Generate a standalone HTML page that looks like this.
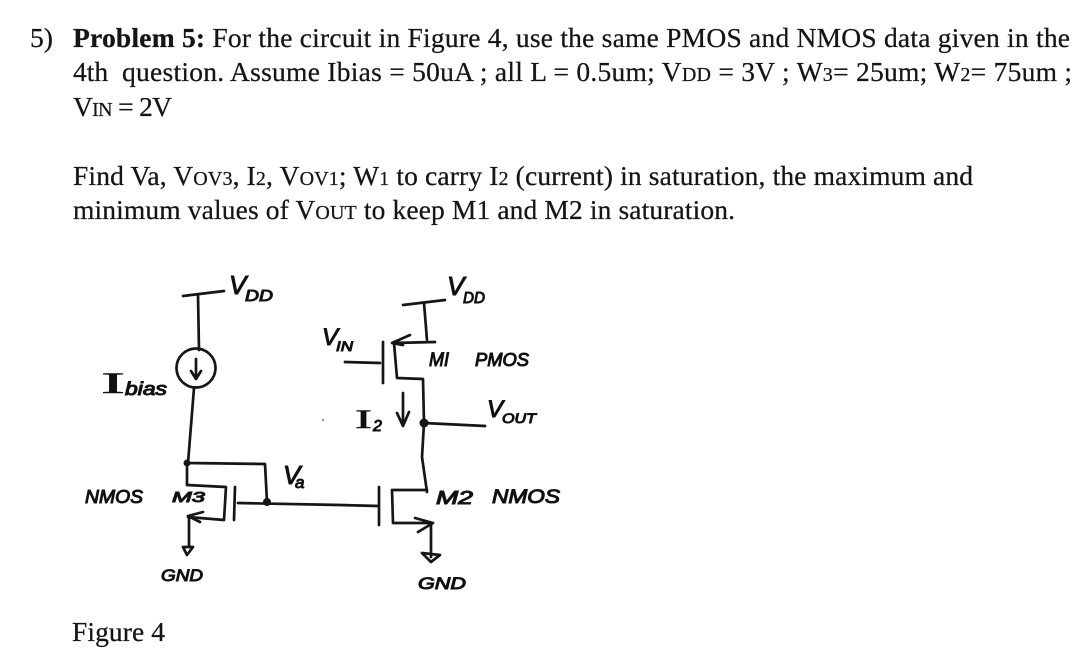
<!DOCTYPE html>
<html><head><meta charset="utf-8">
<style>
html,body{margin:0;padding:0;background:#fff;width:1082px;height:658px;overflow:hidden}
svg{display:block}
.t{font-family:"Liberation Serif",serif;font-size:27.5px;fill:#151515;stroke:#151515;stroke-width:.25px;filter:blur(.3px)}
.s{font-size:20px}
.h{font-family:"Liberation Sans",sans-serif;font-style:italic;fill:#111;stroke:#111;stroke-width:1px;filter:blur(.3px)}
.i{font-family:"Liberation Serif",serif;font-style:normal;fill:#111;stroke:#111;stroke-width:.5px;filter:blur(.3px)}
.w{fill:none;stroke:#161616;stroke-width:2.7;stroke-linecap:round;stroke-linejoin:round;filter:blur(.3px)}
</style></head><body>
<svg width="1082" height="658" viewBox="0 0 1082 658" xmlns="http://www.w3.org/2000/svg">
<text class="t" x="30" y="47">5)</text>
<text class="t" x="73" y="47" textLength="997"><tspan font-weight="bold">Problem 5:</tspan> For the circuit in Figure 4, use the same PMOS and NMOS data given in the</text>
<text class="t" x="73" y="81">4th</text>
<text class="t" x="122" y="81" textLength="950">question. Assume Ibias = 50uA ; all L = 0.5um; V<tspan class="s">DD</tspan> = 3V ; W<tspan class="s">3</tspan>= 25um; W<tspan class="s">2</tspan>= 75um ;</text>
<text class="t" x="73" y="116" textLength="99">V<tspan class="s">IN</tspan> = 2V</text>
<text class="t" x="73" y="185" textLength="900">Find Va, V<tspan class="s">OV3</tspan>, I<tspan class="s">2</tspan>, V<tspan class="s">OV1</tspan>; W<tspan class="s">1</tspan> to carry I<tspan class="s">2</tspan> (current) in saturation, the maximum and</text>
<text class="t" x="73" y="219" textLength="662">minimum values of V<tspan class="s">OUT</tspan> to keep M1 and M2 in saturation.</text>
<text class="t" x="72" y="641" textLength="93">Figure 4</text>

<!-- left branch -->
<g class="w">
<path d="M183 296L224 291M198 295L199 350"/>
<circle cx="196" cy="368" r="19.5"/>
<path d="M196 359L196 378M191 371L196 379L201 371"/>
<path d="M194 388L188 463M187 463L265 464L267 502"/>
<path d="M187 463L187 485L226 487L224 520L188 517"/>
<path d="M235 487L234 520"/>
<path d="M238 503L340 505L378 506"/>
<path d="M203 512L188 516L200 522"/>
<path d="M189 517L189 547M183 547L193 547L187 555Z"/>
</g>
<circle cx="187" cy="463" r="3.5" fill="#161616"/>
<circle cx="267" cy="502" r="4" fill="#161616"/>

<!-- right branch -->
<g class="w">
<path d="M403 305L445 300M424 303L427 340"/>
<path d="M435 342L393 343M410 335L392 343L403 345"/>
<path d="M394 343L397 378L423 379L424 423L422 457L427 492"/>
<path d="M383 342L383 383M345 362L380 363"/>
<path d="M424 423L485 426"/>
<path d="M379 487L379 525"/>
<path d="M427 490L392 490L393 523L433 523M415 518L433 523L418 532"/>
<path d="M431 525L431 557M422 553L440 555L431 562Z"/>
<path d="M403 393L403 425M397 413L403 426L409 412"/>
</g>
<circle cx="424" cy="423" r="4.5" fill="#161616"/>
<circle cx="323" cy="420" r="1.2" fill="#999"/>

<!-- handwritten labels -->
<text class="h" x="229" y="294" font-size="26">V</text>
<text class="h" x="245" y="301" font-size="16" textLength="28" lengthAdjust="spacingAndGlyphs">DD</text>
<text class="h" x="447" y="295" font-size="26">V</text>
<text class="h" x="463" y="303" font-size="16" textLength="22" lengthAdjust="spacingAndGlyphs">DD</text>
<text class="h" x="322" y="345" font-size="24">V</text>
<text class="h" x="336" y="351" font-size="14" textLength="17" lengthAdjust="spacingAndGlyphs">IN</text>
<text class="h" x="429" y="366" font-size="19" textLength="20" lengthAdjust="spacingAndGlyphs">MI</text>
<text class="h" x="475" y="366" font-size="18" textLength="54" lengthAdjust="spacingAndGlyphs">PMOS</text>
<text class="h" x="487" y="417" font-size="24">V</text>
<text class="h" x="502" y="423" font-size="14" textLength="34" lengthAdjust="spacingAndGlyphs">OUT</text>
<text class="i" x="355" y="428" font-size="26" textLength="17" lengthAdjust="spacingAndGlyphs">I</text>
<text class="h" x="373" y="431" font-size="16">2</text>
<text class="h" x="283" y="484" font-size="26">V</text>
<text class="h" x="295" y="488" font-size="17">a</text>
<text class="h" x="436" y="504" font-size="18" textLength="37" lengthAdjust="spacingAndGlyphs">M2</text>
<text class="h" x="492" y="503" font-size="19" textLength="68" lengthAdjust="spacingAndGlyphs">NMOS</text>
<text class="h" x="85" y="503" font-size="18" textLength="58" lengthAdjust="spacingAndGlyphs">NMOS</text>
<text class="h" x="172" y="502" font-size="15" textLength="33" lengthAdjust="spacingAndGlyphs">M3</text>
<text class="i" x="101" y="393" font-size="30" textLength="24" lengthAdjust="spacingAndGlyphs">I</text>
<text class="h" x="125" y="395" font-size="18" textLength="42" lengthAdjust="spacingAndGlyphs">bias</text>
<text class="h" x="161" y="581" font-size="17" textLength="42" lengthAdjust="spacingAndGlyphs">GND</text>
<text class="h" x="418" y="589" font-size="17" textLength="48" lengthAdjust="spacingAndGlyphs">GND</text>
</svg>
</body></html>
